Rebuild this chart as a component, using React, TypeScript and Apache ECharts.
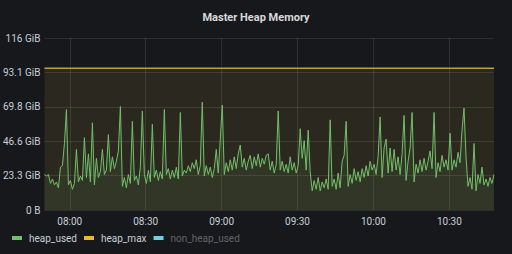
import React, { useEffect, useRef } from 'react';
import * as echarts from 'echarts';

// heap_used in GiB, one sample every ~47 s starting 07:50
const heapUsedGiB = [
  24, 23, 24, 18, 21, 17, 19, 15, 29, 30, 45, 68, 17, 20, 14, 18, 41, 19, 23, 20, 49, 22, 38, 19, 59, 17, 35, 22, 26, 41, 24, 27, 51, 26, 36, 28, 33, 40,
  70, 16, 22, 15, 24, 18, 60, 20, 23, 17, 29, 67, 24, 18, 27, 19, 58, 22, 27, 20, 26, 21, 68, 24, 28, 21, 27, 22, 29, 21, 66, 23, 27, 25, 30, 26, 32, 28,
  34, 24, 30, 73, 23, 30, 24, 29, 22, 28, 41, 25, 48, 71, 24, 32, 26, 34, 27, 36, 28, 38, 44, 29, 35, 27, 33, 37, 28, 36, 30, 38, 29, 35, 31, 37,
  38, 27, 33, 25, 31, 67, 27, 33, 26, 31, 25, 36, 27, 32, 25, 30, 55, 35, 47, 27, 54, 26, 13, 20, 14, 22, 13, 19, 15, 21, 14, 61, 16, 21, 14, 25, 15, 33, 37,
  60, 16, 24, 18, 28, 20, 26, 19, 28, 22, 30, 23, 33, 27, 31, 24, 36, 63, 22, 42, 48, 25, 42, 26, 41, 27, 36, 24, 38, 64, 20, 33, 42, 66, 19, 31, 25,
  34, 26, 35, 27, 33, 40, 28, 66, 22, 32, 26, 37, 29, 34, 27, 52, 27, 34, 29, 39, 32, 54, 69, 36, 16, 22, 14, 45, 13, 24, 18, 29, 17, 21, 16, 22, 18, 24,
];
const heapMaxGiB = 96;
const nonHeapUsedGiB: number[] = [];

const yMax = 116.4;
const yInterval = 23.28;
const xTickLabels = ['08:00', '08:30', '09:00', '09:30', '10:00', '10:30'];
const legendNames = ['heap_used', 'heap_max', 'non_heap_used'];
const titleText = 'Master Heap Memory';

// x positions are minutes since midnight
const toMin = (hhmm: string) => {
  const [h, m] = hhmm.split(':').map(Number);
  return h * 60 + m;
};
const startMin = toMin('07:50');
const stepMin = 30 / 38;
const endMin = startMin + (heapUsedGiB.length - 1) * stepMin;

const pad = (n: number) => (n < 10 ? '0' + n : '' + n);

export default function App() {
  const ref = useRef<HTMLDivElement>(null);
  useEffect(() => {
    document.body.style.margin = '0';
    if (!ref.current) return;
    const chart = echarts.init(ref.current, null, { renderer: 'svg' });
    const xs = heapUsedGiB.map((_, i) => startMin + i * stepMin);
    const tickMins = xTickLabels.map(toMin);
    const font = 'Roboto, Inter, sans-serif';
    chart.setOption({
      animation: false,
      backgroundColor: '#16181c',
      title: {
        text: titleText,
        left: 'center',
        top: 7,
        textStyle: { color: '#d8d9da', fontSize: 11, fontWeight: 'bold', fontFamily: font },
      },
      legend: {
        left: 12,
        top: 233,
        padding: 0,
        icon: 'rect',
        itemWidth: 10,
        itemHeight: 4,
        itemGap: 7,
        selectedMode: false,
        textStyle: { color: '#c7d0d9', fontSize: 10, fontFamily: font, padding: [0, 0, 0, 2] },
        data: [
          { name: legendNames[0] },
          { name: legendNames[1] },
          { name: legendNames[2], textStyle: { color: '#62656b' } },
        ],
      },
      grid: { left: 44, right: 18, top: 38, bottom: 44, containLabel: false },
      xAxis: {
        type: 'value',
        min: startMin,
        max: endMin,
        axisLine: { show: false },
        axisTick: { show: false, customValues: tickMins },
        axisLabel: {
          customValues: tickMins,
          color: '#c7d0d9',
          fontSize: 10,
          fontFamily: font,
          margin: 6,
          formatter: (v: number) => {
            const m = Math.round(v);
            return pad(Math.floor(m / 60)) + ':' + pad(m % 60);
          },
        },
        splitLine: { show: true, lineStyle: { color: 'rgba(255,255,255,0.1)', width: 1 } },
      },
      yAxis: {
        type: 'value',
        min: 0,
        max: yMax,
        interval: yInterval,
        axisLine: { show: false },
        axisTick: { show: false },
        axisLabel: {
          color: '#c7d0d9',
          fontSize: 10,
          fontFamily: font,
          margin: 4,
          formatter: (v: number) =>
            v === 0 ? '0 B' : (v >= 100 ? v.toFixed(0) : v.toFixed(1)) + ' GiB',
        },
        splitLine: { lineStyle: { color: 'rgba(255,255,255,0.1)', width: 1 } },
      },
      series: [
        {
          name: legendNames[1],
          type: 'line',
          showSymbol: false,
          color: '#EAB839',
          lineStyle: { width: 1.5, color: '#c59c3e' },
          areaStyle: { color: '#EAB839', opacity: 0.1 },
          data: [
            [startMin, heapMaxGiB],
            [endMin, heapMaxGiB],
          ],
        },
        {
          name: legendNames[2],
          type: 'line',
          showSymbol: false,
          color: '#6ED0E0',
          data: nonHeapUsedGiB.map((v, i) => [xs[i], v]),
        },
        {
          name: legendNames[0],
          type: 'line',
          showSymbol: false,
          color: '#73BF69',
          lineStyle: { width: 1, color: '#73BF69' },
          areaStyle: { color: '#73BF69', opacity: 0.1 },
          data: heapUsedGiB.map((v, i) => [xs[i], v]),
        },
      ],
    });
    return () => chart.dispose();
  }, []);
  return <div ref={ref} style={{ width: 512, height: 254 }} />;
}
